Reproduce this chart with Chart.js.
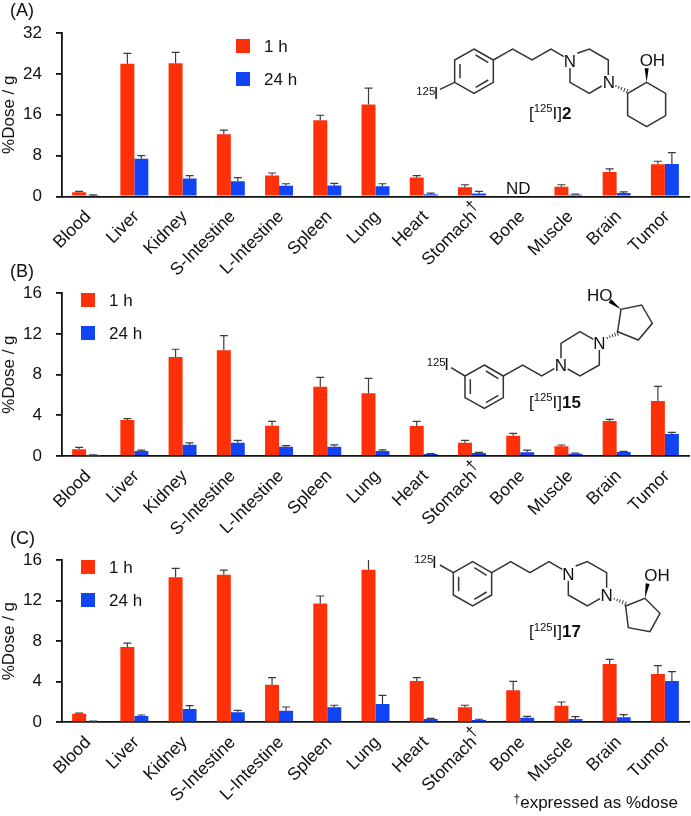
<!DOCTYPE html>
<html>
<head>
<meta charset="utf-8">
<script src="https://cdn.jsdelivr.net/npm/chart.js@4"></script>
<style>
html,body{margin:0;padding:0;background:#fff;width:691px;height:816px;overflow:hidden;font-family:"Liberation Sans",Arial,sans-serif}
canvas{position:absolute;left:0}
svg{position:absolute;left:0;top:0;pointer-events:none}
#note{position:absolute;right:13px;top:793px;font-size:17px;line-height:20px;color:#111;white-space:nowrap}
#note sup{font-size:12px;line-height:0;vertical-align:5px}
</style>
</head>
<body>
<canvas id="chartA" width="691" height="290" style="top:0"></canvas>
<canvas id="chartB" width="691" height="290" style="top:260px"></canvas>
<canvas id="chartC" width="691" height="286" style="top:530px"></canvas>
<svg width="691" height="816" font-family="Liberation Sans, Arial, sans-serif" fill="#111">
  <text x="10" y="16" font-size="18">(A)</text>
  <text x="10" y="277" font-size="18">(B)</text>
  <text x="10" y="544" font-size="18">(C)</text>

  <!-- [125I]2 -->
  <g transform="translate(345,0) scale(0.3333)" font-size="51">
    <g fill="none" stroke="#333" stroke-width="4.5">
      <path d="M387 147L445 180L445 247L387 280L329 247L329 180Z"/>
      <path d="M345 192V235M392 165L430 188M430 240L392 262"/>
      <path d="M329 247L285 268M445 180L503 147L561 180L618 147L657 170"/>
      <path d="M697 160L733 147L790 180V225M770 258L733 280L675 247V205"/>
      <path d="M848 280L905 247L962 280V347L905 380L848 347Z"/>
    </g>
    <path d="M905 247L899 205H911Z" fill="#000"/>
    <path d="M812 261l2-6M820 266l3-8M828 271l3-10M836 276l4-12M844 280l5-13" stroke="#333" stroke-width="3" fill="none"/>
    <text x="675" y="201" text-anchor="middle">N</text>
    <text x="792" y="265" text-anchor="middle">N</text>
    <text x="884" y="198">OH</text>
    <text x="214" y="285" font-size="34">125</text><text x="266" y="298">I</text>
    <text x="552" y="357">[<tspan dy="-20" font-size="34">125</tspan><tspan dy="20">I]</tspan><tspan font-weight="bold">2</tspan></text>
  </g>

  <!-- [125I]15 -->
  <g transform="translate(345,270) scale(0.3333)" font-size="51">
    <g fill="none" stroke="#333" stroke-width="4.5">
      <path d="M418 285L475 318L475 383L418 415L360 383L360 318Z"/>
      <path d="M376 328V372M423 303L460 326M460 376L423 398"/>
      <path d="M360 318L318 293M475 318L533 285L590 318L628 296"/>
      <path d="M648 265V220L705 185L745 208M763 240V285L705 318L668 297"/>
      <path d="M818 185L828 118L890 105L922 160L880 210Z"/>
    </g>
    <path d="M828 118L798 87L791 98Z" fill="#000"/>
    <path d="M785 201l3 6M793 196l3 8M801 192l3 9M809 188l3 11M816 184l4 13" stroke="#333" stroke-width="3" fill="none"/>
    <text x="648" y="303" text-anchor="middle">N</text>
    <text x="763" y="238" text-anchor="middle">N</text>
    <text x="726" y="92">HO</text>
    <text x="245" y="288" font-size="34">125</text><text x="298" y="301">I</text>
    <text x="552" y="414">[<tspan dy="-20" font-size="34">125</tspan><tspan dy="20">I]</tspan><tspan font-weight="bold">15</tspan></text>
  </g>

  <!-- [125I]17 -->
  <g transform="translate(345,530) scale(0.3333)" font-size="51">
    <g fill="none" stroke="#333" stroke-width="4.5">
      <path d="M383 95L440 128L440 195L383 228L325 195L325 128Z"/>
      <path d="M341 140V184M388 113L425 136M425 186L388 208"/>
      <path d="M325 128L285 105M440 128L497 95L555 128L612 95L652 118"/>
      <path d="M692 108L727 95L785 128V173M765 206L727 228L670 195V153"/>
      <path d="M842 228L900 205L945 250L915 305L850 293Z"/>
    </g>
    <path d="M900 205L902 160L914 162Z" fill="#000"/>
    <path d="M807 209l2-6M815 214l3-8M823 218l3-10M831 223l4-12M839 228l5-13" stroke="#333" stroke-width="3" fill="none"/>
    <text x="670" y="151" text-anchor="middle">N</text>
    <text x="785" y="213" text-anchor="middle">N</text>
    <text x="898" y="154">OH</text>
    <text x="208" y="100" font-size="34">125</text><text x="261" y="114">I</text>
    <text x="552" y="322">[<tspan dy="-20" font-size="34">125</tspan><tspan dy="20">I]</tspan><tspan font-weight="bold">17</tspan></text>
  </g>
</svg>
<div id="note"><sup>†</sup>expressed as %dose</div>

<script>
const categories = ["Blood","Liver","Kidney","S-Intestine","L-Intestine","Spleen","Lung","Heart","Stomach†","Bone","Muscle","Brain","Tumor"];
const seriesLabels = ["1 h","24 h"];
const yTitle = "%Dose / g";
const naText = "ND";
const daggerMark = "†";

const ticksA = [0,8,16,24,32];
const ticksBC = [0,4,8,12,16];

// Panel A: bar heights and the top of each error bar
const a1h      = [0.85,26.0,26.1,12.2,4.1,14.9,18.0,3.7,1.8,null,1.9,4.8,6.3];
const a1hTop   = [1.0,28.0,28.2,13.0,4.6,15.9,21.2,4.1,2.3,null,2.3,5.4,6.9];
const a24h     = [0.15,7.4,3.5,3.0,2.1,2.15,2.0,0.45,0.6,null,0.35,0.7,6.35];
const a24hTop  = [0.3,8.0,4.1,3.7,2.5,2.55,2.5,0.65,1.0,null,0.45,0.9,8.6];

// Panel B
const b1h      = [0.66,3.54,9.74,10.4,2.98,6.8,6.16,2.95,1.3,2.0,0.95,3.44,5.4];
const b1hTop   = [0.85,3.67,10.5,11.84,3.4,7.74,7.64,3.4,1.54,2.23,1.08,3.6,6.85];
const b24h     = [0.06,0.5,1.1,1.3,0.9,0.9,0.5,0.2,0.3,0.36,0.22,0.4,2.16];
const b24hTop  = [0.12,0.58,1.3,1.54,1.03,1.1,0.6,0.24,0.35,0.58,0.28,0.45,2.33];

// Panel C
const c1h      = [0.85,7.42,14.3,14.55,3.7,11.7,15.05,4.07,1.48,3.15,1.64,5.75,4.76];
const c1hTop   = [0.9,7.8,15.17,15.0,4.4,12.45,16.5,4.4,1.68,4.04,2.0,6.2,5.58];
const c24h     = [0.07,0.62,1.31,0.99,1.15,1.48,1.8,0.33,0.23,0.46,0.33,0.49,4.07];
const c24hTop  = [0.12,0.72,1.64,1.18,1.51,1.68,2.66,0.39,0.3,0.59,0.56,0.76,4.99];

const RED = "#fe3008", BLUE = "#1144f4", INK = "#111", AXIS = "#111", ERR = "#3c3c3c";
const FONT = '"Liberation Sans", Arial, sans-serif';

const errorBars = {
  id: "errorBars",
  afterDatasetsDraw(chart) {
    const {ctx, chartArea: a, scales: {y}} = chart;
    ctx.save();
    ctx.beginPath();
    ctx.rect(a.left - 1, a.top, a.right - a.left + 2, a.bottom - a.top);
    ctx.clip();
    ctx.strokeStyle = ERR;
    ctx.lineWidth = 1.2;
    chart.data.datasets.forEach((ds, i) => {
      chart.getDatasetMeta(i).data.forEach((bar, j) => {
        const top = ds.errorTop[j];
        if (top == null) return;
        const x = bar.x, yt = y.getPixelForValue(top);
        ctx.beginPath();
        ctx.moveTo(x, bar.y);
        ctx.lineTo(x, yt);
        ctx.moveTo(x - 4, yt);
        ctx.lineTo(x + 4, yt);
        ctx.stroke();
      });
    });
    ctx.restore();
  }
};

// "ND" over empty categories, and the raised dagger on a marked category label
const annotations = {
  id: "annotations",
  afterDatasetsDraw(chart) {
    const {ctx, scales: {x, y}} = chart;
    const zero = y.getPixelForValue(0);
    ctx.save();
    ctx.fillStyle = INK;
    ctx.textAlign = "center";
    chart.data.datasets[0].data.forEach((v, i) => {
      if (v !== null) return;
      ctx.font = "17px " + FONT;
      ctx.textBaseline = "alphabetic";
      ctx.fillText(naText, x.getPixelForTick(i) - 2, zero - 2.5);
    });
    categories.forEach((name, i) => {
      if (!name.endsWith(daggerMark)) return;
      ctx.save();
      ctx.translate(x.getPixelForTick(i), zero + 10);
      ctx.rotate(-Math.PI / 4);
      ctx.font = "16px " + FONT;
      ctx.textBaseline = "middle";
      ctx.fillText(daggerMark, 0, 0);
      ctx.restore();
    });
    ctx.restore();
  }
};

const panelLegend = {
  id: "panelLegend",
  afterDraw(chart, args, opts) {
    const {ctx} = chart;
    chart.data.datasets.forEach((ds, i) => {
      const top = opts.y + i * 33;
      ctx.save();
      ctx.fillStyle = ds.backgroundColor;
      ctx.fillRect(opts.x, top, 14, 14);
      ctx.fillStyle = INK;
      ctx.font = "17px " + FONT;
      ctx.textAlign = "left";
      ctx.textBaseline = "middle";
      ctx.fillText(ds.label, opts.x + 28, top + 8);
      ctx.restore();
    });
  }
};

function panel(id, s1, s1Top, s2, s2Top, yTicks, cfg) {
  const canvas = document.getElementById(id);
  return new Chart(canvas, {
    type: "bar",
    data: {
      labels: categories,
      datasets: [
        {label: seriesLabels[0], data: s1, errorTop: s1Top, backgroundColor: RED},
        {label: seriesLabels[1], data: s2, errorTop: s2Top, backgroundColor: BLUE}
      ]
    },
    plugins: [errorBars, annotations, panelLegend],
    options: {
      responsive: false,
      animation: false,
      events: [],
      layout: {padding: {top: cfg.top, right: 2, left: 0, bottom: 0}},
      datasets: {bar: {barPercentage: 1, categoryPercentage: 0.58}},
      plugins: {
        legend: {display: false},
        tooltip: {enabled: false},
        panelLegend: {x: cfg.legendX, y: cfg.legendY}
      },
      scales: {
        x: {
          grid: {display: false, drawTicks: false},
          border: {display: true, color: AXIS, width: 1.8},
          ticks: {
            autoSkip: false, maxRotation: 45, minRotation: 45, padding: 10, labelOffset: 2,
            color: INK, font: {size: 17.5, family: FONT},
            callback(value) { return this.getLabelForValue(value).replace(daggerMark, ""); }
          },
          afterFit(scale) { scale.height = canvas.height - cfg.bottom; }
        },
        y: {
          min: yTicks[0],
          max: yTicks[yTicks.length - 1],
          afterBuildTicks(scale) { scale.ticks = yTicks.map(v => ({value: v})); },
          title: {display: true, text: yTitle, color: INK, padding: 0, font: {size: 17, family: FONT, lineHeight: 1.1}},
          grid: {drawOnChartArea: false, drawTicks: true, tickLength: 6, color: AXIS, lineWidth: 1.8},
          border: {display: true, color: AXIS, width: 1.8},
          ticks: {padding: 14, color: INK, font: {size: 17, family: FONT}},
          afterFit(scale) { scale.width = 62; }
        }
      }
    }
  });
}

panel("chartA", a1h, a1hTop, a24h, a24hTop, ticksA,  {top: 33,  bottom: 196.5, legendX: 236, legendY: 39});
panel("chartB", b1h, b1hTop, b24h, b24hTop, ticksBC, {top: 33.3, bottom: 196,  legendX: 81,  legendY: 33});
panel("chartC", c1h, c1hTop, c24h, c24hTop, ticksBC, {top: 30,  bottom: 192.3, legendX: 81,  legendY: 30});
</script>
</body>
</html>
